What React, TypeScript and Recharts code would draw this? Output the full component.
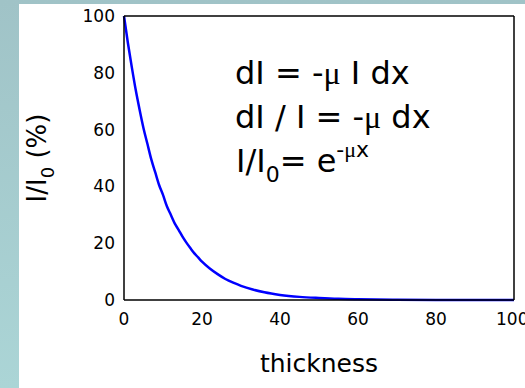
import { LineChart, Line, XAxis, YAxis, Customized } from "recharts";

const thickness = [0, 1, 2, 3, 4, 5, 6, 7, 8, 9, 10, 11, 12, 13, 14, 15, 16, 17, 18, 19, 20, 22, 24, 26, 28, 30, 33, 36, 40, 45, 50, 55, 60, 70, 80, 90, 100];
const intensity = [100, 90.5, 82, 74, 67, 60.5, 55, 49.5, 45, 40.5, 37, 33, 30, 27, 24.7, 22.3, 20.2, 18.3, 16.5, 15, 13.5, 11.1, 9.1, 7.4, 6.1, 5, 3.7, 2.7, 1.8, 1.1, 0.7, 0.4, 0.25, 0.1, 0.03, 0.01, 0];
const labelTicks = [0, 20, 40, 60, 80, 100];
const minorTicks = [0, 10, 20, 30, 40, 50, 60, 70, 80, 90, 100];

const data = thickness.map((x, i) => ({ x, y: intensity[i] }));

const FONT = "'DejaVu Sans', sans-serif";
const SERIF = "'Liberation Serif', serif";

const Equations = () => (
  <g fontFamily={FONT} fill="#000">
    <text x={235} y={84} fontSize={32}>
      dI = -<tspan fontFamily={SERIF}>μ</tspan> I dx
    </text>
    <text x={235} y={128} fontSize={32}>
      dI / I = -<tspan fontFamily={SERIF}>μ</tspan> dx
    </text>
    <text x={236} y={172} fontSize={32}>
      I/I
      <tspan fontSize={22} dy={10}>0</tspan>
      <tspan dy={-10}>= e</tspan>
      <tspan fontSize={22} dy={-15}>-</tspan>
      <tspan fontSize={22} fontFamily={SERIF}>μ</tspan>
      <tspan fontSize={22}>x</tspan>
    </text>
    <text x={319} y={372} fontSize={25} textAnchor="middle">thickness</text>
    <text x={46} y={158} fontSize={26} textAnchor="middle" transform="rotate(-90, 46, 158)">
      I/I<tspan fontSize={18} dy={8}>0</tspan>
      <tspan dy={-8}> (%)</tspan>
    </text>
  </g>
);

export default function App() {
  return (
    <div style={{ position: "absolute", left: 0, top: 0, width: 525, height: 388, background: "linear-gradient(180deg, #a0c3c7 0%, #abd5d6 100%)", overflow: "hidden" }}>
      <div style={{ position: "absolute", left: 19, top: 4, width: 506, height: 384, background: "#fff" }} />
      <div style={{ position: "absolute", left: 0, top: 0 }}>
        <LineChart width={525} height={388} data={data} margin={{ top: 16, right: 11, bottom: 48, left: 64 }}>
          <XAxis
            dataKey="x"
            type="number"
            domain={[0, 100]}
            ticks={labelTicks}
            tickLine={false}
            tickSize={0}
            tickMargin={13}
            height={40}
            axisLine={{ stroke: "#000", strokeWidth: 1.5 }}
            tick={{ fill: "#000", fontSize: 17, fontFamily: FONT }}
          />
          <XAxis xAxisId="xb" orientation="bottom" mirror type="number" domain={[0, 100]} allowDataOverflow ticks={minorTicks} tick={false} axisLine={false} tickSize={3} tickLine={{ stroke: "#000" }} />
          <XAxis xAxisId="xt" orientation="top" mirror type="number" domain={[0, 100]} allowDataOverflow ticks={minorTicks} tick={false} axisLine={{ stroke: "#000", strokeWidth: 1.5 }} tickSize={3} tickLine={{ stroke: "#000" }} />
          <YAxis
            type="number"
            domain={[0, 100]}
            ticks={labelTicks}
            tickLine={false}
            tickSize={0}
            tickMargin={9}
            width={60}
            axisLine={{ stroke: "#000", strokeWidth: 1.5 }}
            tick={{ fill: "#000", fontSize: 17, fontFamily: FONT }}
          />
          <YAxis yAxisId="yl" orientation="left" mirror type="number" domain={[0, 100]} allowDataOverflow ticks={minorTicks} tick={false} axisLine={false} tickSize={3} tickLine={{ stroke: "#000" }} />
          <YAxis yAxisId="yr" orientation="right" mirror type="number" domain={[0, 100]} allowDataOverflow ticks={minorTicks} tick={false} axisLine={{ stroke: "#000", strokeWidth: 1.5 }} tickSize={3} tickLine={{ stroke: "#000" }} />
          <Line type="monotone" dataKey="y" stroke="#0000ff" strokeWidth={2.5} dot={false} isAnimationActive={false} />
          <Customized component={<Equations />} />
        </LineChart>
      </div>
    </div>
  );
}
